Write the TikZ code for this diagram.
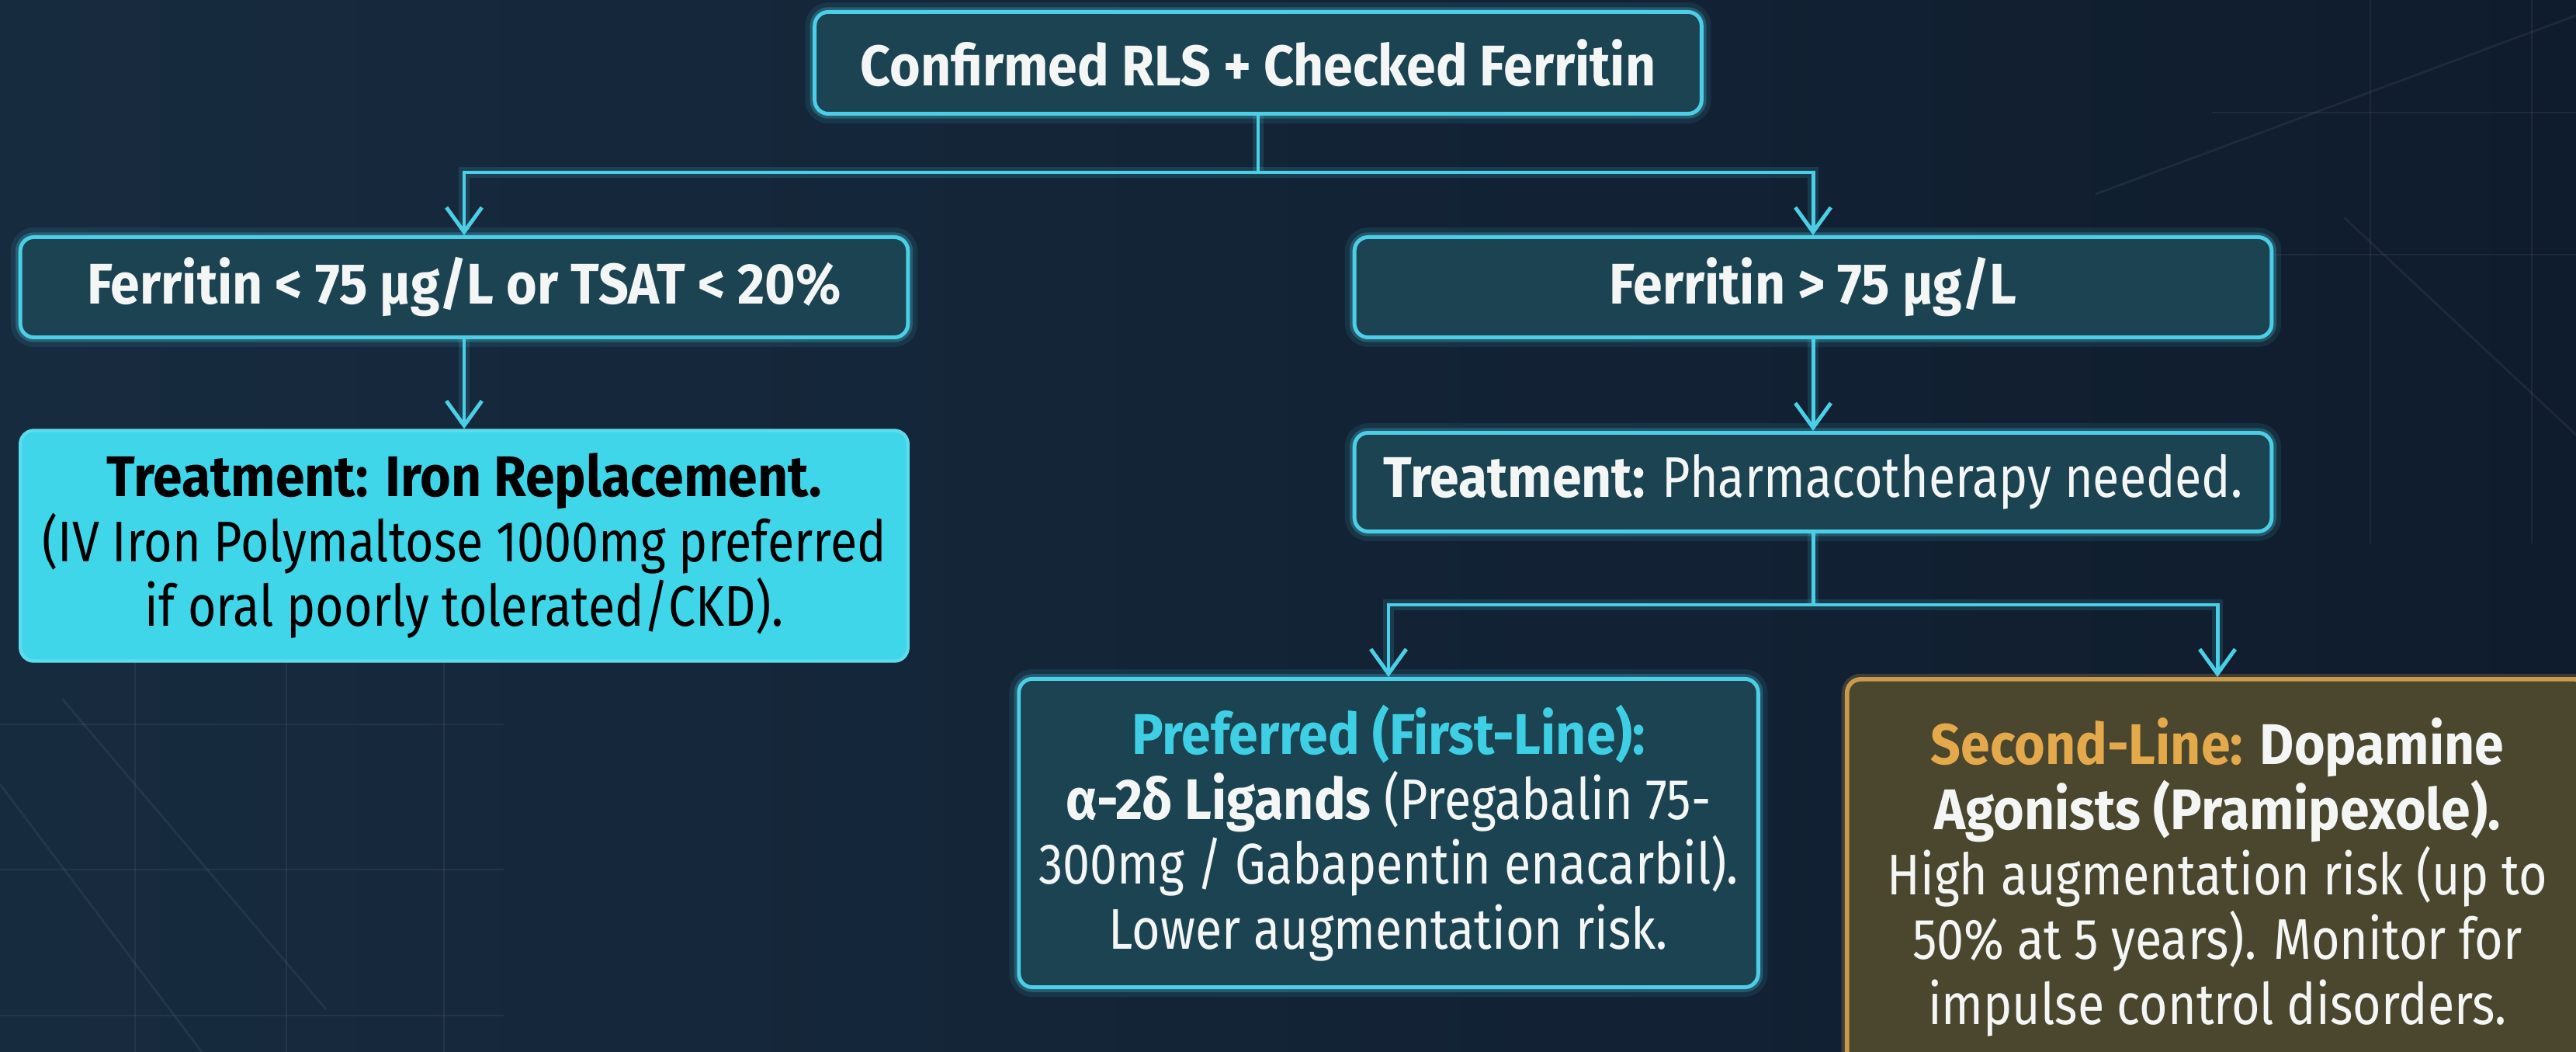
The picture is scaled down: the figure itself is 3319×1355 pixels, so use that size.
\documentclass[tikz,border=0pt]{standalone}
\usepackage{fontspec}
\setmainfont{Fira Sans}[FakeStretch=0.85, BoldFeatures={FakeStretch=0.92}]
\usetikzlibrary{arrows.meta}
\definecolor{bgA}{HTML}{172B3F}
\definecolor{bgB}{HTML}{0F1C2D}
\definecolor{cyanline}{HTML}{4CCFE6}
\definecolor{boxfill}{HTML}{1B4352}
\definecolor{ironfill}{HTML}{3FD6EA}
\definecolor{olivefill}{HTML}{4B462E}
\definecolor{goldline}{HTML}{C99A4E}
\definecolor{goldtext}{HTML}{E3A94B}
\definecolor{cyantext}{HTML}{3FCFE4}
\definecolor{lighttext}{HTML}{F3F6F4}
\tikzset{
  x=0.01cm, y=-0.01cm,
  basebox/.style={rounded corners=5pt, align=center, inner sep=0pt,
    font=\fontsize{21}{23.8}\selectfont, text=lighttext},
  tealbox/.style={basebox, fill=boxfill, draw=cyanline, line width=1.4pt,
    preaction={draw=cyanline, line width=7pt, opacity=0.10},
    preaction={draw=cyanline, line width=3.5pt, opacity=0.25}},
  ironbox/.style={basebox, fill=ironfill, draw=ironfill!85!white, line width=1.2pt, text=black},
  goldbox/.style={basebox, fill=olivefill, draw=goldline, line width=1.6pt,
    preaction={draw=goldline, line width=4pt, opacity=0.25}},
  conn/.style={draw=cyanline, line width=1.4pt,
    preaction={draw=cyanline, line width=4pt, opacity=0.15}},
  arr/.style={conn, -{Straight Barb[length=9pt,width=13pt,line width=1.4pt]}},
  faint/.style={draw=white, opacity=0.06, line width=0.8pt}
}
\begin{document}
\begin{tikzpicture}
\useasboundingbox (0,0) rectangle (3319,1355);
\begin{scope}
\clip (0,0) rectangle (3319,1355);
\shade[left color=bgA, right color=bgB] (0,0) rectangle (3319,1355);
% faint architectural background
\foreach \yy in {933,1120,1308} \draw[faint] (0,\yy) -- (650,\yy);
\foreach \xx in {174,369,572} \draw[faint] (\xx,850) -- (\xx,1355);
\draw[faint] (0,1010) -- (260,1355);
\draw[faint] (80,900) -- (420,1300);
\foreach \xx in {3054,3262} \draw[faint] (\xx,0) -- (\xx,700);
\foreach \yy in {145,328} \draw[faint] (2850,\yy) -- (3319,\yy);
\draw[faint] (2700,250) -- (3319,20);
\draw[faint] (3020,280) -- (3319,560);

% nodes
\node[tealbox, minimum width=11.42cm, minimum height=1.31cm] (top) at (1621,81)
  {\bfseries Confirmed RLS + Checked Ferritin};
\node[tealbox, minimum width=11.43cm, minimum height=1.29cm] (low) at (598,370)
  {\bfseries Ferritin < 75 µg/L or TSAT < 20\%};
\node[ironbox, minimum width=11.43cm, minimum height=2.97cm] (iron) at (598,703)
  {\bfseries Treatment: Iron Replacement.\\
   (IV Iron Polymaltose 1000mg preferred\\
   if oral poorly tolerated/CKD).};
\node[tealbox, minimum width=11.81cm, minimum height=1.29cm] (high) at (2336,370)
  {\bfseries Ferritin > 75 µg/L};
\node[tealbox, minimum width=11.81cm, minimum height=1.27cm] (pharm) at (2336,621)
  {\textbf{Treatment:} Pharmacotherapy needed.};
\node[tealbox, minimum width=9.52cm, minimum height=3.97cm] (first) at (1789,1073)
  {\textcolor{cyantext}{\bfseries Preferred (First-Line):}\\
   \textbf{α-2δ Ligands} (Pregabalin 75-\\
   300mg / Gabapentin enacarbil).\\
   Lower augmentation risk.};
\node[goldbox, minimum width=9.54cm, minimum height=5.1cm] (second) at (2857,1130)
  {\textcolor{goldtext}{\bfseries Second-Line:} \textbf{Dopamine}\\
   \textbf{Agonists (Pramipexole).}\\
   High augmentation risk (up to\\
   50\% at 5 years). Monitor for\\
   impulse control disorders.};

% connectors
\coordinate (j1) at (1621,222);
\coordinate (j2) at (2336,779);
\draw[conn] (top.south) -- (j1);
\draw[arr] (j1) -| (low.north);
\draw[arr] (j1) -| (high.north);
\draw[arr] (low.south) -- (iron.north);
\draw[arr] (high.south) -- (pharm.north);
\draw[conn] (pharm.south) -- (j2);
\draw[arr] (j2) -| (first.north);
\draw[arr] (j2) -| (second.north);
\end{scope}
\end{tikzpicture}
\end{document}
